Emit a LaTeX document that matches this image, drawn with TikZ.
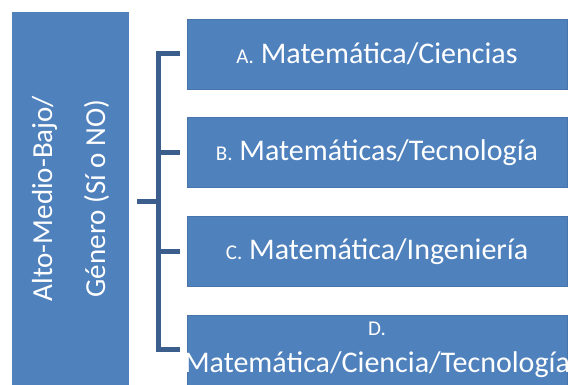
\documentclass[tikz,border=0pt]{standalone}
\usepackage{fontspec}
\setmainfont{Carlito}
\usetikzlibrary{positioning}

\definecolor{boxblue}{HTML}{4F81BD}
\definecolor{linkblue}{HTML}{3B5E8C}

\tikzset{
    levelbox/.style={fill=boxblue, draw=boxblue!90!black, line width=0.6pt, text=white,
        minimum width=380pt, minimum height=70pt, inner sep=0pt, align=center,
        font=\fontsize{30}{37}\selectfont},
    critbox/.style={fill=boxblue, text=white, rotate=90, minimum width=373pt,
        minimum height=117pt, inner sep=0pt, align=center,
        font=\fontsize{29}{53}\selectfont},
    bracket/.style={linkblue, line width=5pt, line join=miter}
}
\newcommand{\lbl}[1]{{\fontsize{21}{21}\selectfont #1}}

\begin{document}
\begin{tikzpicture}[x=1pt, y=-1pt]
            \useasboundingbox (0, 0) rectangle (568, 385);
            \clip (0, 0) rectangle (568, 385);
            \node[critbox] (crit) at (70.5, 198.5) {Alto-Medio-Bajo/\\Género (Sí o NO)};
            \node[levelbox] (optA) at (377, 54) {\lbl{A.} Matemática/Ciencias};
            \node[levelbox, below=28pt of optA] (optB) {\lbl{B.} Matemáticas/Tecnología};
            \node[levelbox, below=28pt of optB] (optC) {\lbl{C.} Matemática/Ingeniería};
            \node[levelbox, below=28pt of optC] (optD) {\lbl{D.}\\\makebox[0pt][c]{Matemática/Ciencia/Tecnología}};
            \coordinate (mid) at (158, 202);
            \draw[bracket] ([xshift=8pt]crit.south |- mid) -- (mid);
            \draw[bracket] ([xshift=-7pt]optA.west) -- (optA.west -| mid) -- (optD.west -| mid) -- ([xshift=-7pt]optD.west);
            \foreach \o in {optB, optC}
                \draw[bracket] (\o.west -| mid) -- ([xshift=-7pt]\o.west);
\end{tikzpicture}
\end{document}
